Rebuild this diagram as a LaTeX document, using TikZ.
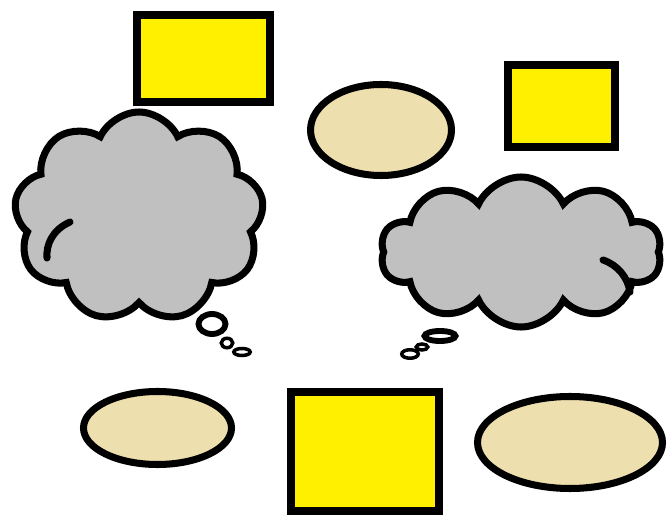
\documentclass[tikz,border=0pt]{standalone}
\usetikzlibrary{shapes.geometric,shapes.symbols}
\definecolor{boxyellow}{HTML}{FFF000}
\definecolor{ovalbeige}{HTML}{EEE0AE}
\definecolor{cloudgray}{HTML}{C0C0C0}
\begin{document}
\begin{tikzpicture}[x=0.03cm,y=-0.03cm,
  boxsize/.style 2 args={minimum width=#1*0.03cm,minimum height=#2*0.03cm},
  box/.style={draw,line width=6pt,fill=boxyellow,rectangle,inner sep=0pt},
  oval/.style={draw,line width=6pt,fill=ovalbeige,ellipse,inner sep=0pt},
  thought/.style={draw,line width=6pt,fill=cloudgray,cloud,cloud ignores aspect,cloud puff arc=130,inner sep=0pt},
  crease/.style={line width=6pt,line cap=round},
  bubble/.style={draw,line width=5pt,fill=white,ellipse,inner sep=0pt},
  smallbubble/.style={bubble,line width=3pt}]
  \useasboundingbox (0,0) rectangle (667,516);
  % yellow boxes
  \node[box,boxsize={133}{87}] (topbox) at (203.5,58.5) {};
  \node[box,boxsize={107}{82}] (rightbox) at (561.5,106) {};
  \node[box,boxsize={148}{119}] (bottombox) at (365,451.5) {};
  % beige ovals
  \node[oval,boxsize={141}{91}] (topoval) at (381,130) {};
  \node[oval,boxsize={148}{73}] (leftoval) at (157.5,428) {};
  \node[oval,boxsize={185}{92}] (rightoval) at (570,442.5) {};
  % clouds
  \node[thought,cloud puffs=9,boxsize={250}{210}] (leftcloud) at (139,217) {};
  \node[thought,cloud puffs=10,boxsize={281}{150}] (rightcloud) at (521,252) {};
  \draw[crease] (70,222) .. controls (52,230) and (46,245) .. (47,258);
  \draw[crease] (603,260) .. controls (618,265) and (628,278) .. (630,292);
  % thought bubbles
  \node[bubble,boxsize={27}{20}] (leftbubbleA) at (212,324) {};
  \node[smallbubble,boxsize={11.5}{9.5}] (leftbubbleB) at (227,343) {};
  \node[smallbubble,boxsize={16.5}{7}] (leftbubbleC) at (242,352) {};
  \node[bubble,boxsize={31}{10}] (rightbubbleA) at (440,336) {};
  \node[smallbubble,boxsize={11.5}{6}] (rightbubbleB) at (422,347) {};
  \node[smallbubble,boxsize={16.5}{8.5}] (rightbubbleC) at (410,354) {};
\end{tikzpicture}
\end{document}
